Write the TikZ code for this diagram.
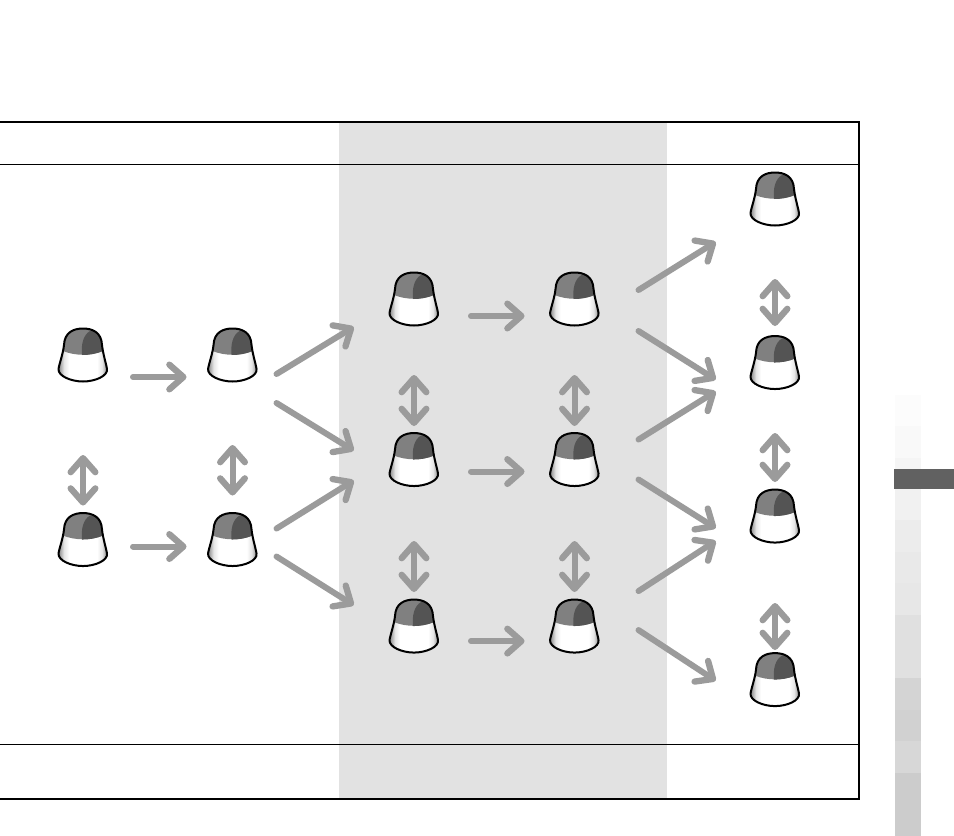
\documentclass[tikz,border=0pt]{standalone}
\usepackage{tikz}
\usetikzlibrary{
    positioning,                      % right=of, below=of
    arrows.meta,                      % Straight Barb
    calc                              % offsets from the nodes
}
\definecolor{arrow_gray}{RGB}{155,155,155}
\definecolor{band_gray}{RGB}{226,226,226}
\pgfdeclarehorizontalshading{hatbody}{100bp}{
    color(0bp)=(black!50); color(25bp)=(black!50); color(31bp)=(black!10); color(36bp)=(white);
    color(64bp)=(white); color(69bp)=(black!10); color(75bp)=(black!50); color(100bp)=(black!50)}
\tikzset{
    hat/.style={
        rectangle, minimum width=40.5pt, minimum height=43.5pt, inner sep=0pt,
        path picture={
            \begin{scope}[shift={(path picture bounding box.center)}]
                \shade[shading=hatbody]
                    (-20,-5) -- (20,-5) .. controls (21,2) and (23,8) .. (24,14)
                    .. controls (25,21) and (12,26.5) .. (0,26.5)
                    .. controls (-12,26.5) and (-25,21) .. (-24.5,14)
                    .. controls (-23.5,8) and (-21,2) .. (-20,-5) -- cycle;
                \fill[black!50]
                    (-19,-10) .. controls (-18.5,-23) and (-9,-26.5) .. (0,-26.5)
                    .. controls (9,-26.5) and (18.5,-23) .. (19,-10) -- (20,-4)
                    .. controls (8,1) and (-8,1) .. (-20,-4) -- cycle;
                \fill[black!67]
                    (7,-24) .. controls (12,-25) and (18,-21) .. (19,-10) -- (20,-4)
                    .. controls (13,-1) and (6,0) .. (-1,0)
                    .. controls (-2,-10) and (0,-20) .. (7,-24) -- cycle;
                \draw[line width=1.5pt, line join=round]
                    (-19,-10) .. controls (-18.5,-23) and (-9,-26.5) .. (0,-26.5)
                    .. controls (9,-26.5) and (18.5,-23) .. (19,-10)
                    .. controls (20,-1) and (23,8) .. (24,14)
                    .. controls (25,21) and (12,26.5) .. (0,26.5)
                    .. controls (-12,26.5) and (-25,21) .. (-24.5,14)
                    .. controls (-23.5,8) and (-20,-1) .. (-19,-10) -- cycle;
            \end{scope}
        }
    },
    arrow/.style={
        -{Straight Barb[round, length=10.5pt, width=18.5pt, line width=4.75pt]},
        arrow_gray, line width=4.5pt, line cap=round, shorten >=-1.5pt
    },
    dualarrow/.style={
        {Straight Barb[round, length=10.5pt, width=18.5pt, line width=4.75pt]}-{Straight Barb[round, length=10.5pt, width=18.5pt, line width=4.75pt]},
        arrow_gray, line width=4.5pt, line cap=round, shorten >=-1.5pt, shorten <=-1.5pt
    }
}
\begin{document}
\begin{tikzpicture}[x=0.75pt, y=-0.75pt]
    \useasboundingbox (0,0) rectangle (954,836);
    % shaded column and table lines
    \fill[band_gray] (339,122) rectangle (667,799);
    \draw[line width=1.5pt] (0,122) -- (859,122) -- (859,799) -- (0,799);
    \draw[line width=0.75pt] (0,164) -- (859,164);
    \draw[line width=0.75pt] (0,744) -- (859,744);
    % grey scale at the right
    \fill[black!1]  (895,395) rectangle (921,426);
    \fill[black!2.5] (895,426) rectangle (921,458);
    \fill[black!4]  (895,458) rectangle (921,489);
    \fill[black!5.5] (895,489) rectangle (921,520);
    \fill[black!7.5] (895,520) rectangle (921,552);
    \fill[black!8.5] (895,552) rectangle (921,583);
    \fill[black!9.5] (895,583) rectangle (921,615);
    \fill[black!12] (895,615) rectangle (921,678);
    \fill[black!17] (895,678) rectangle (921,710);
    \fill[black!18] (895,710) rectangle (921,741);
    \fill[black!15.5] (895,741) rectangle (921,773);
    \fill[black!20] (895,773) rectangle (921,836);
    \fill[black!62] (894,469) rectangle (954,489);
    % hats
    \node[hat] (a1) at (83,355) {};
    \node[hat, right=71.25pt of a1] (a2) {};
    \node[hat, below=94.5pt of a1]  (a3) {};
    \node[hat, right=71.25pt of a3] (a4) {};
    \node[hat] (b1) at (414,299) {};
    \node[hat, below=76.5pt of b1]  (b2) {};
    \node[hat, below=81pt of b2]    (b3) {};
    \node[hat, right=79.5pt of b1]  (c1) {};
    \node[hat, right=79.5pt of b2]  (c2) {};
    \node[hat, right=79.5pt of b3]  (c3) {};
    \node[hat] (d1) at (775,199) {};
    \node[hat, below=78.75pt of d1] (d2) {};
    \node[hat, below=71.25pt of d2] (d3) {};
    \node[hat, below=78.75pt of d3] (d4) {};
    % left part
    \draw[arrow] ($(a1)+(50,22)$) -- ($(a2)+(-48,22)$);
    \draw[arrow] ($(a3)+(50,7)$)  -- ($(a4)+(-48,7)$);
    \draw[dualarrow] ($(a1)+(0,102)$) -- ($(a3)+(0,-36)$);
    \draw[dualarrow] ($(a2)+(0,92)$)  -- ($(a4)+(0,-46)$);
    \draw[arrow] ($(a2)+(44,19)$)  -- ($(b1)+(-62,29)$);
    \draw[arrow] ($(a2)+(44,48)$)  -- ($(b2)+(-62,-10)$);
    \draw[arrow] ($(a4)+(44,-11)$) -- ($(b2)+(-62,22)$);
    \draw[arrow] ($(a4)+(44,17)$)  -- ($(b3)+(-62,-22)$);
    % middle part
    \draw[arrow] ($(b1)+(57,17)$) -- ($(c1)+(-52,17)$);
    \draw[arrow] ($(b2)+(57,12)$) -- ($(c2)+(-52,12)$);
    \draw[arrow] ($(b3)+(57,15)$) -- ($(c3)+(-52,15)$);
    \draw[dualarrow] (b1 |- 0,377) -- (b2 |- 0,424);
    \draw[dualarrow] (c1 |- 0,377) -- (c2 |- 0,424);
    \draw[dualarrow] (b2 |- 0,543) -- (b3 |- 0,590);
    \draw[dualarrow] (c2 |- 0,543) -- (c3 |- 0,590);
    % right part
    \draw[arrow] ($(c1)+(64,-9)$)  -- ($(d1)+(-61,44)$);
    \draw[arrow] ($(c1)+(64,32)$)  -- ($(d2)+(-61,16)$);
    \draw[arrow] ($(c2)+(64,-20)$) -- ($(d2)+(-61,30)$);
    \draw[arrow] ($(c2)+(64,20)$)  -- ($(d3)+(-61,11)$);
    \draw[arrow] ($(c3)+(64,-35)$) -- ($(d3)+(-61,26)$);
    \draw[arrow] ($(c3)+(64,4)$)   -- ($(d4)+(-61,0)$);
    \draw[dualarrow] (d1 |- 0,281) -- (d2 |- 0,324);
    \draw[dualarrow] (d2 |- 0,435) -- (d3 |- 0,480);
    \draw[dualarrow] (d3 |- 0,605) -- (d4 |- 0,648);
\end{tikzpicture}
\end{document}
